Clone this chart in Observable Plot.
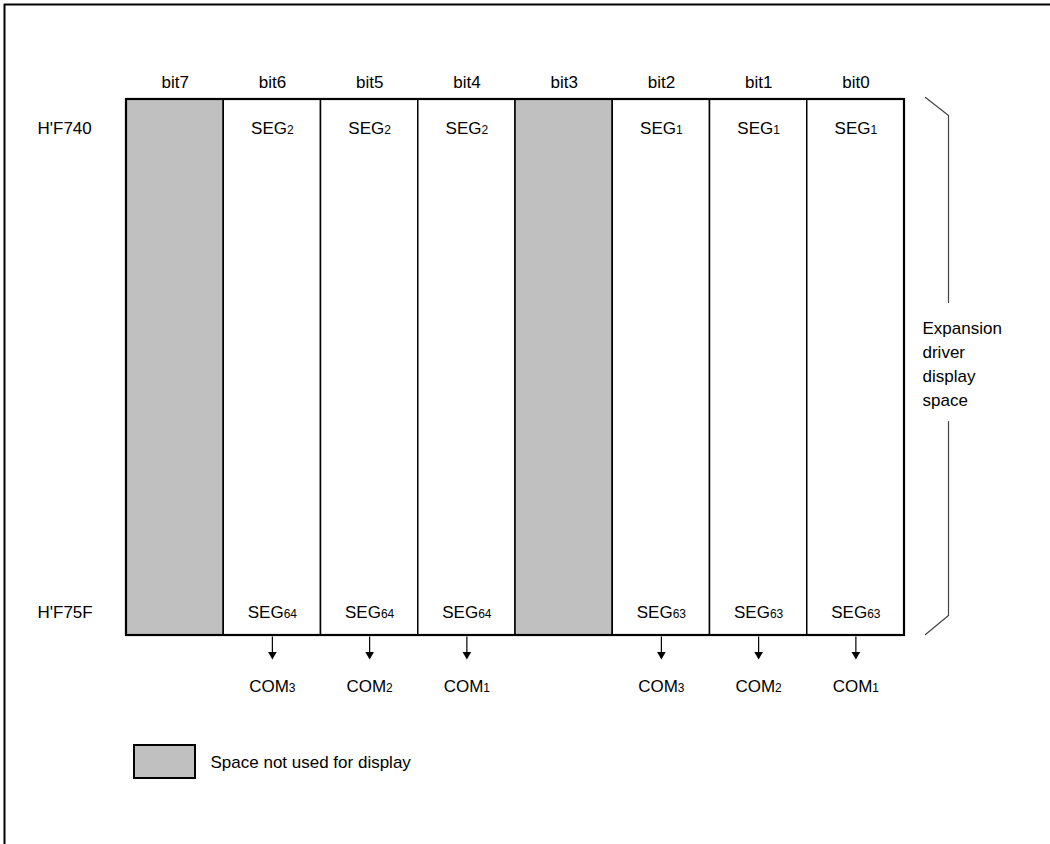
<!DOCTYPE html>
<html>
<head>
<meta charset="utf-8">
<script src="https://cdn.jsdelivr.net/npm/d3@7"></script>
<script src="https://cdn.jsdelivr.net/npm/@observablehq/plot@0.6"></script>
<style>
  html, body { margin: 0; padding: 0; background: #ffffff; }
  #chart svg { display: block; }
</style>
</head>
<body>
<div id="chart"></div>
<script>
// ---- data ----
const bits = ["bit7", "bit6", "bit5", "bit4", "bit3", "bit2", "bit1", "bit0"];
const usedForDisplay = [false, true, true, true, false, true, true, true];
const segFirstSub = [null, "2", "2", "2", null, "1", "1", "1"];
const segLastSub = [null, "64", "64", "64", null, "63", "63", "63"];
const comSub = [null, "3", "2", "1", null, "3", "2", "1"];
const addresses = ["H'F740", "H'F75F"];
const bracketLines = ["Expansion", "driver", "display", "space"];
const legendLabel = "Space not used for display";

// ---- layout (pixels for y, column units for x) ----
const W = 1050, H = 844;
const colLeft = 126, colRight = 904;
const unit = (colRight - colLeft) / bits.length;
const u = px => (px - colLeft) / unit;          // pixel -> column units (for off-grid items)
const boxTop = 99, boxBottom = 635;
const headerY = 82, firstRowY = 128, lastRowY = 612, comY = 686;
const arrowTop = boxBottom + 1, arrowHeadY = 654;
const FS = 17, SUBFS = 12;
const SEP = "\u2063"; // invisible separator marking where the subscript starts

const cells = bits.map((b, i) => ({
  bit: b, i, used: usedForDisplay[i],
  first: segFirstSub[i], last: segLastSub[i], com: comSub[i]
}));
const usedCells = cells.filter(d => d.used);
const rowLabels = addresses.map((a, k) => ({ text: a, y: k === 0 ? firstRowY : lastRowY }));

const bracket = [
  { x: u(925), y: 97, z: "a" }, { x: u(948), y: 115, z: "a" }, { x: u(948), y: 302, z: "a" },
  { x: u(948), y: 421, z: "b" }, { x: u(948), y: 615, z: "b" }, { x: u(925), y: 634, z: "b" }
];
const frame = [{ x: u(4), y: H }, { x: u(4), y: 4 }, { x: u(W + 5), y: 4 }];

const font = "Liberation Sans, Arial, Helvetica, sans-serif";
const gray = "#c0c0c0";

const svg = Plot.plot({
  width: W,
  height: H,
  margin: 0,
  x: { domain: [0, bits.length], range: [colLeft, colRight], axis: null },
  y: { type: "identity", axis: null },
  style: { fontFamily: font, fontSize: FS + "px", background: "#ffffff", color: "#000" },
  marks: [
    // outer frame
    Plot.line(frame, { x: "x", y: "y", stroke: "#000", strokeWidth: 2 }),
    // memory cells
    Plot.rect(cells, {
      x1: d => d.i, x2: d => d.i + 1, y1: boxTop, y2: boxBottom,
      fill: d => d.used ? "#ffffff" : gray, stroke: "#000", strokeWidth: 1.5
    }),
    // thicker outer box
    Plot.rect([0], { x1: 0, x2: bits.length, y1: boxTop, y2: boxBottom, fill: "none", stroke: "#000", strokeWidth: 2.2 }),
    // bit headers
    Plot.text(cells, { x: d => d.i + 0.5, y: headerY, text: "bit", fill: "#000", fontSize: FS }),
    // address labels
    Plot.text(rowLabels, { x: u(37), y: "y", text: "text", textAnchor: "start", fill: "#000", fontSize: FS }),
    // SEG labels
    Plot.text(usedCells, { x: d => d.i + 0.5, y: firstRowY, text: d => "SEG" + SEP + d.first, fill: "#000", fontSize: FS }),
    Plot.text(usedCells, { x: d => d.i + 0.5, y: lastRowY, text: d => "SEG" + SEP + d.last, fill: "#000", fontSize: FS }),
    // arrows to COM
    Plot.link(usedCells, { x1: d => d.i + 0.5, x2: d => d.i + 0.5, y1: arrowTop, y2: arrowHeadY, stroke: "#000", strokeWidth: 1.2 }),
    Plot.dot(usedCells, { x: d => d.i + 0.5, y: arrowHeadY, symbol: "triangle", rotate: 180, r: 3.2, fill: "#000", stroke: "none" }),
    Plot.text(usedCells, { x: d => d.i + 0.5, y: comY, text: d => "COM" + SEP + d.com, fill: "#000", fontSize: FS }),
    // bracket
    Plot.line(bracket, { x: "x", y: "y", z: "z", stroke: "#444", strokeWidth: 1.2, curve: "linear" }),
    Plot.text([bracketLines.join("\n")], { x: u(922), y: 362, text: d => d, textAnchor: "start", lineHeight: 1.4, fill: "#000", fontSize: FS }),
    // legend
    Plot.rect([legendLabel], { x1: u(134), x2: u(195), y1: 745, y2: 778, fill: gray, stroke: "#000", strokeWidth: 2 }),
    Plot.text([legendLabel], { x: u(210), y: 762, text: d => d, textAnchor: "start", fill: "#000", fontSize: FS })
  ]
});

// render the subscripts as real tspans (smaller digits)
svg.querySelectorAll("text").forEach(t => {
  if (t.children.length) return;
  const s = t.textContent;
  const k = s.indexOf(SEP);
  if (k < 0) return;
  t.textContent = s.slice(0, k);
  const ts = document.createElementNS("http://www.w3.org/2000/svg", "tspan");
  ts.setAttribute("font-size", String(SUBFS));
  ts.textContent = s.slice(k + 1);
  t.appendChild(ts);
});

document.getElementById("chart").appendChild(svg);
</script>
</body>
</html>
